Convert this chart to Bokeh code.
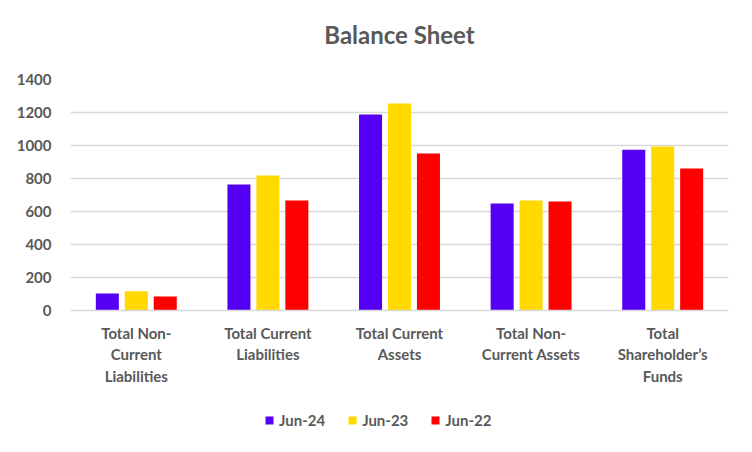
from bokeh.plotting import figure
from bokeh.models import ColumnDataSource, FactorRange, Legend, LegendItem, Range1d, Title
from bokeh.layouts import column
from bokeh.transform import dodge
from bokeh.embed import file_html
from bokeh.resources import INLINE

categories = ["Total Non-\nCurrent\nLiabilities", "Total Current\nLiabilities",
              "Total Current\nAssets", "Total Non-\nCurrent Assets",
              "Total\nShareholder\u2019s\nFunds"]
jun24 = [103, 763, 1188, 648, 975]
jun23 = [117, 818, 1254, 666, 994]
jun22 = [85, 666, 951, 660, 860]
series_names = ["Jun-24", "Jun-23", "Jun-22"]
colors = ["#5500F5", "#FFD900", "#FF0000"]
title_text = "Balance Sheet"

source = ColumnDataSource(dict(cat=categories, jun24=jun24, jun23=jun23, jun22=jun22))

FONT = "Lato"
GREY = "#595959"

p = figure(x_range=FactorRange(*categories),
           y_range=Range1d(0, 1400), output_backend="svg", toolbar_location=None,
           title=None)
p.frame_width = 658
p.frame_height = 231
p.min_border_left = 70
p.min_border_right = 24
p.min_border_top = 79
p.min_border_bottom = 90
p.outline_line_color = None
p.border_fill_color = "white"

# spacer then title (later-added titles sit further from the frame)
p.add_layout(Title(text=" ", text_font_size="12px", align="center"), "above")
p.add_layout(Title(text=title_text, align="center", text_font=FONT, text_font_size="24px",
                   text_font_style="bold", text_color=GREY), "above")

offsets = [-0.22, 0.0, 0.22]
for key, name, col, off in zip(["jun24", "jun23", "jun22"], series_names, colors, offsets):
    p.vbar(x=dodge("cat", off, range=p.x_range), top=key, width=0.175,
           source=source, color=col, line_color=None)

p.yaxis.ticker = [0, 200, 400, 600, 800, 1000, 1200, 1400]
p.yaxis.axis_line_color = None
p.yaxis.major_tick_line_color = None
p.yaxis.minor_tick_line_color = None
p.yaxis.major_label_text_font = FONT
p.yaxis.major_label_text_font_size = "15px"
p.yaxis.major_label_text_font_style = "bold"
p.yaxis.major_label_text_color = GREY
p.yaxis.major_label_standoff = 13

p.xaxis.axis_line_color = "#d9d9d9"
p.xaxis.axis_line_width = 1.5
p.xaxis.major_tick_line_color = None
p.xaxis.minor_tick_line_color = None
p.xaxis.major_label_text_font = FONT
p.xaxis.major_label_text_font_size = "15px"
p.xaxis.major_label_text_font_style = "bold"
p.xaxis.major_label_text_color = GREY
p.xaxis.major_label_standoff = 7

p.xgrid.grid_line_color = None
p.ygrid.grid_line_color = "#d9d9d9"
p.ygrid.grid_line_width = 1.5

# legend strip below the chart (swatch renderers sit outside the strip's visible range)
lg = figure(width=752, height=52, output_backend="svg", toolbar_location=None,
            x_range=Range1d(0, 1), y_range=Range1d(0, 1), min_border=0)
lg.axis.visible = False
lg.grid.visible = False
lg.outline_line_color = None
lg.border_fill_color = "white"
items = []
for name, col in zip(series_names, colors):
    r = lg.vbar(x=[-5], top=[-4], bottom=[-5], width=0.1, color=col, line_color=None)
    items.append(LegendItem(label=name, renderers=[r]))
legend = Legend(items=items, orientation="horizontal", location=(194, 23))
legend.label_text_font = FONT
legend.label_text_font_size = "15px"
legend.label_text_font_style = "bold"
legend.label_text_color = GREY
legend.glyph_width = 10
legend.glyph_height = 10
legend.spacing = 22
legend.label_standoff = 5
legend.border_line_color = None
legend.background_fill_alpha = 0
legend.margin = 0
legend.padding = 4
lg.add_layout(legend)

layout = column(p, lg, spacing=0)
open("out.html", "w").write(file_html(layout, INLINE))
